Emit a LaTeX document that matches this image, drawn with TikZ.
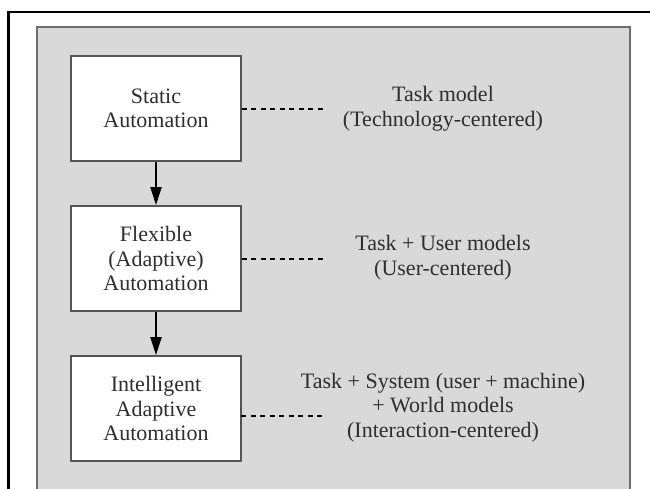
\documentclass[tikz,border=0pt]{standalone}
\usepackage{fontspec}
\setmainfont{Liberation Serif}
\usetikzlibrary{arrows.meta}
\definecolor{panelgray}{HTML}{D9D9D9}
\definecolor{paneledge}{HTML}{6E6E6E}
\definecolor{boxedge}{HTML}{555555}
\definecolor{inktext}{HTML}{2E2E2E}
\begin{document}
\begin{tikzpicture}[x=1pt,y=-1pt,
  autobox/.style={draw=boxedge, line width=1.8pt, fill=white, minimum width=170pt,
    minimum height=105pt, align=center, inner sep=0pt, text=inktext,
    font=\fontsize{22}{24.5}\selectfont},
  modeltext/.style={align=center, inner sep=0pt, text=inktext,
    font=\fontsize{22}{24.5}\selectfont},
  flow/.style={line width=2pt, -{Triangle[length=18pt,width=11pt]}},
  link/.style={line width=2pt, dash pattern=on 5pt off 4.5pt}]
\useasboundingbox (0,0) rectangle (650,489);
\clip (0,0) rectangle (650,489);
\fill[white] (0,0) rectangle (650,489);
% outer frame lines
\draw[line width=2pt] (7,12) -- (650,12);
\draw[line width=3pt] (8,11) -- (8,495);
% grey panel
\draw[fill=panelgray, draw=paneledge, line width=2.5pt] (37,27) rectangle (630,520);
% boxes
\node[autobox] (s) at (156,108.5) {Static\\Automation};
\node[autobox] (f) at (156,258.5) {Flexible\\(Adaptive)\\Automation};
\node[autobox] (i) at (156,408.5) {Intelligent\\Adaptive\\Automation};
% model texts
\node[modeltext] (ms) at (443,108.5) {Task model\\(Technology-centered)};
\node[modeltext] (mf) at (443,257.5) {Task + User models\\(User-centered)};
\node[modeltext] (mi) at (443,407.5) {Task + System (user + machine)\\+ World models\\(Interaction-centered)};
% arrows
\draw[flow] (s.south) -- (f.north);
\draw[flow] (f.south) -- (i.north);
% dotted links
\coordinate (se) at (325,109);
\coordinate (fe) at (325,259);
\coordinate (is) at (241,416);
\coordinate (ie) at (325,416);
\draw[link] (s.east |- se) -- (se);
\draw[link] (f.east |- fe) -- (fe);
\draw[link] (is) -- (ie);
\end{tikzpicture}
\end{document}
